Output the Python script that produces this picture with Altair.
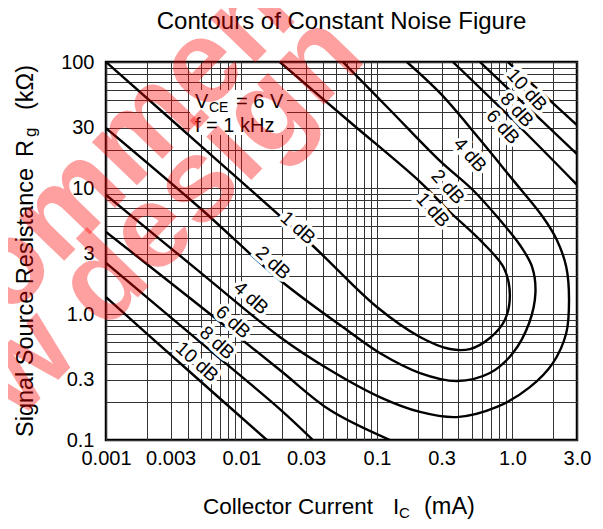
import altair as alt
import pandas as pd

FONT = "Liberation Sans"

# ---------------- axis ticks / grid ----------------
x_grid = [0.001, 0.002, 0.003, 0.004, 0.005, 0.006, 0.007, 0.008, 0.009,
          0.01, 0.02, 0.03, 0.04, 0.05, 0.06, 0.07, 0.08, 0.09,
          0.1, 0.2, 0.3, 0.4, 0.5, 0.6, 0.7, 0.8, 0.9, 1.0, 2.0, 3.0]
y_grid = [0.1, 0.2, 0.3, 0.4, 0.5, 0.6, 0.7, 0.8, 0.9,
          1.0, 2.0, 3.0, 4.0, 5.0, 6.0, 7.0, 8.0, 9.0,
          10, 20, 30, 40, 50, 60, 70, 80, 90, 100]
x_label_vals = [0.001, 0.003, 0.01, 0.03, 0.1, 0.3, 1.0, 3.0]
x_label_text = ["0.001", "0.003", "0.01", "0.03", "0.1", "0.3", "1.0", "3.0"]
y_label_vals = [0.1, 0.3, 1.0, 3.0, 10, 30, 100]
y_label_text = ["0.1", "0.3", "1.0", "3", "10", "30", "100"]

# ---------------- contour data (Ic in mA, Rg in kOhm) ----------------
nf1_x = [0.001, 0.00494, 0.032, 0.1, 0.208, 0.346, 0.486, 0.682, 0.88, 0.958,
         0.866, 0.576, 0.346, 0.208, 0.0632, 0.0192]
nf1_y = [100, 21.9, 3.66, 1.136, 0.657, 0.527, 0.527, 0.645, 0.897, 1.415,
         2.32, 3.87, 6.45, 11.2, 33.4, 100]

nf2_x = [0.001, 0.00494, 0.0192, 0.060, 0.105, 0.208, 0.389, 0.682, 1.009, 1.33,
         1.48, 1.40, 1.136, 0.809, 0.511, 0.292, 0.125, 0.0561]
nf2_y = [29.9, 6.94, 1.86, 0.746, 0.49, 0.34, 0.294, 0.34, 0.49, 0.848,
         1.47, 2.36, 3.53, 5.57, 9.64, 16.4, 41.6, 100]

nf4_x = [0.001, 0.00494, 0.0192, 0.045, 0.105, 0.208, 0.389, 0.769, 1.346, 1.99,
         2.50, 2.62, 2.50, 2.13, 1.68, 1.009, 0.556, 0.292, 0.1665]
nf4_y = [8.8, 2.15, 0.657, 0.359, 0.219, 0.167, 0.152, 0.183, 0.263, 0.408,
         0.707, 1.29, 2.36, 3.87, 5.89, 11.6, 25.4, 56.8, 100]

nf6_low_x = [0.001, 0.00494, 0.0192, 0.045, 0.125]
nf6_low_y = [4.48, 1.157, 0.359, 0.173, 0.1]
nf6_up_x = [0.364, 1.043, 3.0]
nf6_up_y = [100, 33.4, 10.6]

nf8_low_x = [0.001, 0.00494, 0.0192, 0.0337]
nf8_low_y = [2.54, 0.60, 0.176, 0.1]
nf8_up_x = [0.576, 3.0]
nf8_up_y = [100, 18.6]

nf10_low_x = [0.001, 0.00417, 0.0154]
nf10_low_y = [1.36, 0.3465, 0.1]
nf10_up_x = [0.927, 3.0]
nf10_up_y = [100, 31.6]

# contour labels
low_lab_text = ["1 dB", "2 dB", "4 dB", "6 dB", "8 dB", "10 dB"]
low_lab_x = [0.0261, 0.0171, 0.01175, 0.00866, 0.0066, 0.0047]
low_lab_y = [4.81, 2.54, 1.34, 0.864, 0.589, 0.416]
up_lab_text = ["1 dB", "2 dB", "4 dB", "6 dB", "8 dB", "10 dB"]
up_lab_x = [0.259, 0.334, 0.486, 0.851, 1.08, 1.279]
up_lab_y = [6.69, 10.2, 18.3, 30.5, 41.6, 60.0]

segments = [
    ("1dB", nf1_x, nf1_y), ("2dB", nf2_x, nf2_y), ("4dB", nf4_x, nf4_y),
    ("6dB_low", nf6_low_x, nf6_low_y), ("6dB_up", nf6_up_x, nf6_up_y),
    ("8dB_low", nf8_low_x, nf8_low_y), ("8dB_up", nf8_up_x, nf8_up_y),
    ("10dB_low", nf10_low_x, nf10_low_y), ("10dB_up", nf10_up_x, nf10_up_y),
]
rows = []
for name, xs, ys in segments:
    for i, (xv, yv) in enumerate(zip(xs, ys)):
        rows.append({"seg": name, "ord": i, "ic": xv, "rg": yv})
df = pd.DataFrame(rows)
low_df = pd.DataFrame({"t": low_lab_text, "ic": low_lab_x, "rg": low_lab_y})
up_df = pd.DataFrame({"t": up_lab_text, "ic": up_lab_x, "rg": up_lab_y})
one = pd.DataFrame({"a": [0]})


def lab_expr(vals, texts):
    parts = [f"datum.value == {v} ? '{t}'" for v, t in zip(vals, texts)]
    return " : ".join(parts) + " : ''"


xscale = alt.Scale(type="log", domain=[0.001, 3.0], nice=False)
yscale = alt.Scale(type="log", domain=[0.1, 100], nice=False)

xaxis = alt.Axis(values=x_grid, labelExpr=lab_expr(x_label_vals, x_label_text),
                 grid=True, gridColor="#333333", gridWidth=1, ticks=False, domain=False,
                 labelFontSize=20, labelFont=FONT, labelColor="black", labelPadding=8,
                 labelOverlap=False, labelFlush=False, labelBound=False, title=None)
yaxis = alt.Axis(values=y_grid, labelExpr=lab_expr(y_label_vals, y_label_text),
                 grid=True, gridColor="#333333", gridWidth=1, ticks=False, domain=False,
                 labelFontSize=20, labelFont=FONT, labelColor="black", labelPadding=12,
                 labelOverlap=False, labelFlush=False, labelBound=False, title=None)

X = alt.X("ic:Q", scale=xscale, axis=xaxis)
Y = alt.Y("rg:Q", scale=yscale, axis=yaxis)

lines = alt.Chart(df).mark_line(color="black", strokeWidth=2.4, interpolate="catmull-rom",
                                clip=True).encode(
    x=X, y=Y, detail="seg:N", order="ord:Q")


def labels(data, angle):
    halo = alt.Chart(data).mark_text(angle=angle, fontSize=19, font=FONT, color="white",
                                     stroke="white", strokeWidth=7, align="center",
                                     baseline="middle").encode(
        x=alt.X("ic:Q", scale=xscale), y=alt.Y("rg:Q", scale=yscale), text="t:N")
    txt = alt.Chart(data).mark_text(angle=angle, fontSize=19, font=FONT, color="black",
                                    align="center", baseline="middle").encode(
        x=alt.X("ic:Q", scale=xscale), y=alt.Y("rg:Q", scale=yscale), text="t:N")
    return [halo, txt]


def note(text, x, y, size, angle=0, align="left", baseline="alphabetic", color="black",
         weight="normal", opacity=1.0, font=FONT):
    return alt.Chart(one).mark_text(text=text, fontSize=size, angle=angle, align=align,
                                    baseline=baseline, color=color, fontWeight=weight,
                                    opacity=opacity, font=font).encode(
        x=alt.value(x), y=alt.value(y))


box = alt.Chart(one).mark_rect(color="white").encode(
    x=alt.value(84), x2=alt.value(181), y=alt.value(28), y2=alt.value(73))

layers = [box, lines] + labels(low_df, 42) + labels(up_df, 48) + [
    note("V", 89, 46, 20),
    note("CE", 103, 50, 14),
    note("= 6 V", 130, 46, 20),
    note("f = 1 kHz", 89, 70, 20),
    note("Contours of Constant Noise Figure", 235.5, -33, 24, align="center"),
    note("Collector Current", 97, 452, 22.5),
    note("I", 287, 452, 22.5),
    note("C", 293, 456, 15),
    note("(mA)", 318, 452, 23.5),
    note("Signal Source Resistance", -73, 375, 23.5, angle=270),
    note("R", -73, 95, 23.5, angle=270),
    note("g", -70, 75, 17, angle=270),
    note("(k\u03a9)", -73, 48, 23.5, angle=270),
    note("Not recommended for", -380, 549, 118, angle=314, color="red", weight="bold",
         opacity=0.37),
    note("new design", -184, 459, 118, angle=314, color="red", weight="bold",
         opacity=0.37),
]

chart = alt.layer(*layers).properties(
    width=471, height=378,
    padding={"left": 98, "top": 54, "right": 18, "bottom": 81},
    autosize=alt.AutoSizeParams(type="none"),
).configure_view(stroke="black", strokeWidth=2.5)

chart.save("out.html", embed_options={"renderer": "svg", "actions": False})
